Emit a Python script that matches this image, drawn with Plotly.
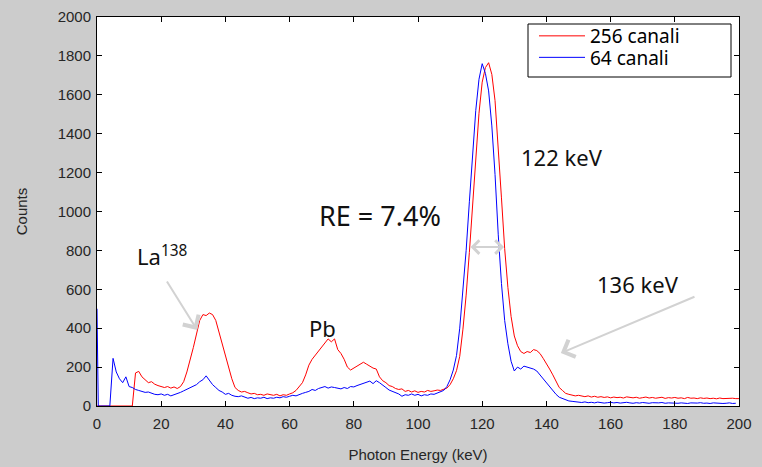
import plotly.graph_objects as go

# Energy axis (keV)
energy = [0, 0.4] + list(range(1, 201))

counts_256 = [
    0, 0,
    0, 0, 0, 0, 0, 0, 0, 0, 0, 0,            # 1-10
    0, 170, 178, 150, 135, 120, 125, 112, 105, 100,   # 11-20
    95, 100, 92, 98, 90, 100, 125, 175, 235, 300,     # 21-30
    370, 440, 470, 465, 478, 470, 440, 380, 320, 260, # 31-40
    200, 140, 95, 80, 72, 75, 68, 62, 65, 58,         # 41-50
    60, 55, 62, 58, 55, 60, 52, 58, 55, 62,           # 51-60
    68, 80, 100, 120, 160, 210, 240, 260, 285, 300,   # 61-70
    320, 345, 330, 345, 290, 270, 240, 200, 185, 195, # 71-80
    205, 215, 225, 215, 205, 195, 190, 150, 130, 120, # 81-90
    105, 100, 90, 85, 88, 75, 80, 72, 78, 70,         # 91-100
    75, 72, 80, 75, 78, 82, 80, 88, 92, 110,          # 101-110
    140, 182, 255, 395, 570, 790, 1040, 1290, 1505, 1665,  # 111-120
    1740, 1765, 1705, 1570, 1340, 1070, 810, 610, 460, 360,  # 121-130
    310, 280, 270, 280, 275, 290, 285, 270, 245, 220, # 131-140
    190, 160, 130, 95, 80, 65, 60, 55, 52, 55,        # 141-150
    50, 48, 52, 46, 50, 45, 48, 44, 47, 42,           # 151-160
    46, 43, 45, 41, 47, 44, 42, 45, 40, 43,           # 161-170
    46, 41, 44, 40, 42, 45, 39, 43, 41, 44,           # 171-180
    40, 42, 38, 44, 40, 41, 38, 42, 39, 41,           # 181-190
    38, 40, 37, 41, 38, 39, 37, 40, 38, 38,           # 191-200
]

counts_64 = [
    500, 0,
    0, 0, 0, 0, 245, 175, 140, 120, 150,              # 1-10
    100, 95, 85, 80, 75, 70, 72, 65, 60, 58,          # 11-20
    62, 55, 60, 52, 58, 60, 70, 78, 85, 95,           # 21-30
    100, 110, 125, 135, 155, 130, 110, 95, 80, 72,    # 31-40
    60, 65, 55, 50, 48, 52, 45, 40, 44, 38,           # 41-50
    42, 40, 45, 38, 42, 40, 45, 42, 48, 45,           # 51-60
    50, 55, 52, 60, 65, 70, 75, 85, 80, 90,           # 61-70
    95, 100, 92, 98, 95, 92, 88, 95, 90, 100,         # 71-80
    98, 105, 110, 115, 120, 128, 115, 130, 120, 105,  # 81-90
    95, 82, 75, 70, 62, 50, 58, 55, 62, 55,           # 91-100
    60, 52, 58, 55, 62, 60, 68, 72, 80, 100,          # 101-110
    135, 185, 260, 400, 580, 800, 1050, 1300, 1520, 1680,  # 111-120
    1760, 1710, 1620, 1440, 1190, 880, 630, 440, 320, 230,  # 121-130
    180, 200, 190, 205, 200, 195, 190, 180, 160, 135, # 131-140
    115, 95, 75, 60, 45, 38, 30, 26, 24, 22,          # 141-150
    20, 18, 21, 17, 19, 16, 20, 18, 15, 17,           # 151-160
    19, 16, 18, 15, 17, 19, 16, 14, 17, 15,           # 161-170
    18, 16, 14, 17, 15, 16, 18, 14, 16, 15,           # 171-180
    17, 14, 16, 15, 13, 16, 14, 15, 17, 14,           # 181-190
    15, 13, 16, 14, 15, 13, 14, 16, 13, 14,           # 191-200
]

series_names = ["256 canali", "64 canali"]
x_ticks = list(range(0, 201, 20))
y_ticks = list(range(0, 2001, 200))

TXT = "Noto Sans, Open Sans, sans-serif"
AX = "Liberation Sans, Arial, sans-serif"

fig = go.Figure()
fig.add_trace(go.Scatter(x=energy, y=counts_256, mode="lines", name=series_names[0],
                         line=dict(color="#ff0000", width=1), legend="legend"))
fig.add_trace(go.Scatter(x=energy, y=counts_64, mode="lines", name=series_names[1],
                         line=dict(color="#0000ff", width=1), legend="legend2"))

axis_common = dict(showline=True, linecolor="black", linewidth=1, mirror="ticks",
                   ticks="inside", ticklen=5, tickcolor="black", showgrid=False,
                   zeroline=False, tickfont=dict(family=AX, size=15, color="#262626"))

fig.update_xaxes(range=[0, 200], tickvals=x_ticks, ticktext=[str(v) for v in x_ticks],
                 title=dict(text="Photon Energy (keV)", font=dict(family=AX, size=15, color="#262626"),
                            standoff=18),
                 ticklabelstandoff=4, automargin=False, **axis_common)
fig.update_yaxes(range=[0, 2000], tickvals=y_ticks, ticktext=[str(v) for v in y_ticks],
                 title=dict(text="Counts", font=dict(family=AX, size=15, color="#262626"),
                            standoff=26),
                 ticklabelstandoff=2, automargin=False, **axis_common)

ann_font = dict(family=TXT, size=22, color="#111111")
arrow_col = "#d2d2d2"
annotations = [
    dict(x=20.2, y=776, text="La<sup>138</sup>", showarrow=False, font=ann_font),
    dict(x=70.1, y=401, text="Pb", showarrow=False, font=ann_font),
    dict(x=88.2, y=982, text="RE = 7.4%", showarrow=False,
         font=dict(family=TXT, size=27, color="#111111")),
    dict(x=144.9, y=1280, text="122 keV", showarrow=False, font=ann_font),
    dict(x=168.5, y=627, text="136 keV", showarrow=False, font=ann_font),
    dict(x=31.2, y=391, ax=21.5, ay=648, axref="x", ayref="y", text="", showarrow=True,
         arrowhead=4, arrowsize=1.8, arrowwidth=2, arrowcolor=arrow_col),
    dict(x=144.5, y=272, ax=186.6, ay=565, axref="x", ayref="y", text="", showarrow=True,
         arrowhead=4, arrowsize=1.8, arrowwidth=2, arrowcolor=arrow_col),
    dict(x=126.8, y=817, ax=115.9, ay=817, axref="x", ayref="y", text="", showarrow=True,
         arrowhead=4, startarrowhead=4, arrowside="end+start", arrowsize=1.3,
         startarrowsize=1.3, arrowwidth=2, arrowcolor=arrow_col),
]

W, H = 762, 467
L, R, T, B = 97, 23, 17, 61
pw, ph = W - L - R, H - T - B

def px(xp):
    return (xp - L) / pw

def py(yp):
    return (H - B - yp) / ph

fig.add_shape(type="rect", xref="paper", yref="paper",
              x0=px(528), x1=px(731), y0=py(77), y1=py(24),
              fillcolor="white", line=dict(color="black", width=1), layer="above")

leg_common = dict(xanchor="left", yanchor="top", bgcolor="rgba(0,0,0,0)", borderwidth=0,
                  itemwidth=46, font=dict(family=TXT, size=19, color="black"))

fig.update_layout(
    width=W, height=H,
    margin=dict(l=L, r=R, t=T, b=B, autoexpand=False),
    paper_bgcolor="#cccccc", plot_bgcolor="white",
    annotations=annotations,
    showlegend=True,
    legend=dict(x=px(534), y=py(17), **leg_common),
    legend2=dict(x=px(534), y=py(38.5), **leg_common),
)

fig.write_html("out.html")
